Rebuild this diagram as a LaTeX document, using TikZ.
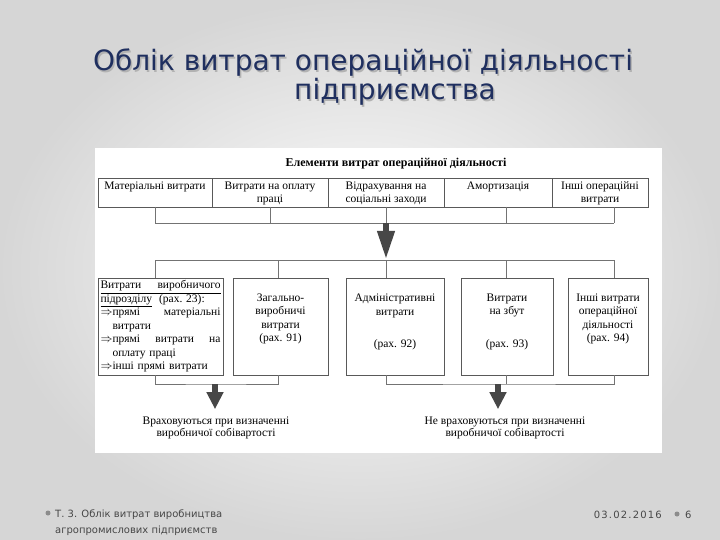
\documentclass[tikz,border=0pt]{standalone}
\usepackage{fontspec}
\setmainfont{Liberation Serif}
\newfontfamily\slidefont{DejaVu Sans}
\newfontfamily\datefont[LetterSpace=12]{DejaVu Sans}
\usetikzlibrary{positioning, arrows.meta}
\definecolor{titleblue}{HTML}{1F2F5F}
\newcommand{\topstrut}{\rule{0pt}{11pt}}

\begin{document}
\begin{tikzpicture}[
    x=1pt, y=-1pt,
    title/.style={font=\slidefont\fontsize{28}{30}\selectfont, text=titleblue,
                  anchor=base, inner sep=0pt},
    elem/.style={rectangle, draw=black!65, line width=0.7pt, minimum height=29pt,
                 inner xsep=1pt, inner ysep=0pt, outer sep=0pt, align=center,
                 anchor=north west, font=\fontsize{11.5}{13}\selectfont},
    cost/.style={rectangle, draw=black!65, line width=0.7pt, minimum height=97pt,
                 inner sep=2pt, outer sep=0pt, align=center, anchor=north west,
                 font=\fontsize{11.5}{13.5}\selectfont},
    link/.style={draw=black!55, line width=0.7pt},
    fat/.style={draw=black!72, line width=6.5pt, -{Triangle[width=16pt, length=#1]}},
    fat/.default=17pt,
    note/.style={align=center, font=\fontsize{11.5}{12.5}\selectfont},
    foot/.style={font=\slidefont\fontsize{10}{16}\selectfont, text=black!72, inner sep=0pt},
    dot/.style={circle, fill=black!45, inner sep=0pt, minimum size=5pt}
]
  \useasboundingbox (0,0) rectangle (720,540);
  \shade[inner color=white, outer color=black!16] (0,0) rectangle (720,540);

  % Slide title
  \node[title, text=black!30] (titleshade) at (364.5,72.5) {Облік витрат операційної діяльності};
  \node[title] (title) at (363,71) {Облік витрат операційної діяльності};
  \node[title, text=black!30] (title2shade) at (396.5,101.5) {підприємства};
  \node[title] (title2) at (395,100) {підприємства};

  % Diagram panel
  \fill[white] (95,148) rectangle (662,453);
  \node[font=\bfseries\fontsize{12}{13}\selectfont] (head) at (396,164)
    {Елементи витрат операційної діяльності};

  % Top row: cost elements
  \node[elem, minimum width=114pt] (mat) at (98,178) {\topstrut Матеріальні витрати\\\strut};
  \node[elem, minimum width=116pt] (opl) at (mat.north east) {\topstrut Витрати на оплату\\праці\strut};
  \node[elem, minimum width=116pt] (vidr) at (opl.north east) {\topstrut Відрахування на\\соціальні заходи\strut};
  \node[elem, minimum width=108pt] (amort) at (vidr.north east) {\topstrut Амортизація\\\strut};
  \node[elem, minimum width=96pt] (inshi) at (amort.north east) {\topstrut Інші операційні\\витрати\strut};

  % Bottom row: cost groups
  \node[cost, minimum width=125pt, text width=120pt, align=left] (vyr) at (98,278)
    {\underline{\makebox[120pt][l]{Витрати\hfill виробничого}}\\
     \makebox[120pt][l]{\underline{підрозділу}\hspace{7pt}(рах.~23):}\\
     \makebox[120pt][l]{$\Rightarrow$прямі\hfill матеріальні}\\
     \hspace*{12pt}витрати\\
     \makebox[120pt][l]{$\Rightarrow$прямі\hfill витрати\hfill на}\\
     \hspace*{12pt}оплату праці\\
     $\Rightarrow$інші прямі витрати};
  \node[cost, minimum width=95pt] (zag) at (233,278)
    {Загально-\\виробничі\\витрати\\(рах. 91)\\\strut};
  \node[cost, minimum width=98pt] (adm) at (346,278)
    {Адміністративні\\витрати\\[19pt](рах. 92)\\[-6pt]\strut};
  \node[cost, minimum width=92pt] (zbut) at (461,278)
    {Витрати\\на збут\\[19pt](рах. 93)\\[-6pt]\strut};
  \node[cost, minimum width=80pt] (insh) at (568,278)
    {Інші витрати\\операційної\\діяльності\\(рах. 94)\\\strut};

  % Bars between the rows
  \coordinate (tbL) at (155,223);
  \coordinate (tbR) at (614,223);
  \coordinate (lbL) at (155,260);
  \coordinate (lbR) at (614,260);
  \draw[link] (tbL) -- (tbR);
  \draw[link] (lbL) -- (lbR);
  \foreach \n/\s in {mat/0, opl/0, vidr/0, amort/8, inshi/14}
    \draw[link] ([xshift=\s pt]\n.south) -- ([xshift=\s pt]\n.south |- tbL);
  \foreach \n/\s in {vyr/-5.5, zag/-2.5, adm/-9, zbut/-1, insh/6}
    \draw[link] ([xshift=\s pt]\n.north) -- ([xshift=\s pt]\n.north |- lbL);
  \draw[fat=29pt] (vidr.south |- tbL) -- (vidr.south |- lbL);

  % Bottom: what goes into production cost
  \node[note] (incnote) at (216,428) {Враховуються при визначенні\\виробничої собівартості};
  \node[note] (excnote) at (505,428) {Не враховуються при визначенні\\виробничої собівартості};
  \coordinate (inc) at (215,384);
  \coordinate (exc) at (498,384);
  \draw[link] ([xshift=-5.5pt]vyr.south) |- (inc) -| ([xshift=-2.5pt]zag.south);
  \draw[link] ([xshift=-9pt]adm.south) |- (exc) -| ([xshift=6pt]insh.south);
  \draw[link] ([xshift=-1pt]zbut.south) -- ([xshift=-1pt]zbut.south |- exc);
  \draw[fat, shorten >=4pt] (inc) -- (inc |- incnote.north);
  \draw[fat, shorten >=4pt] (exc) -- (exc |- excnote.north);

  % Footer
  \node[dot] (dotL) at (48,513) {};
  \node[foot, anchor=north west, align=left] (theme) at (55,510)
    {Т. 3. Облік витрат виробництва\\агропромислових підприємств};
  \node[foot, font=\datefont\fontsize{10}{16}\selectfont, anchor=base east] (date) at (662,518) {03.02.2016};
  \node[dot] (dotR) at (677,514) {};
  \node[foot, anchor=base west] (page) at (685,518) {6};
\end{tikzpicture}
\end{document}
